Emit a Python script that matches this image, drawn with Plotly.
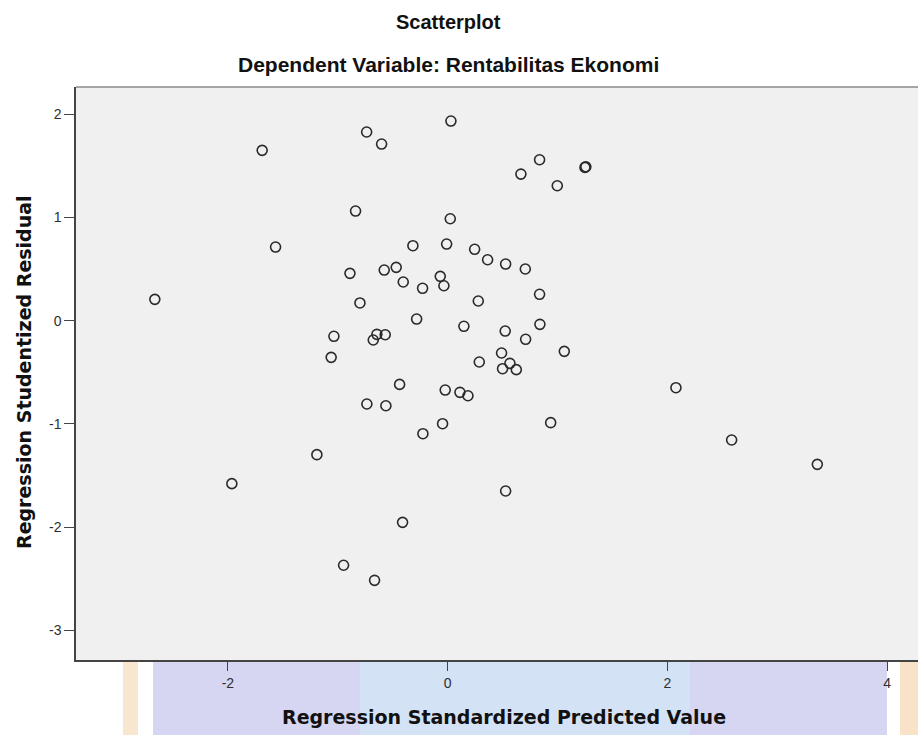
import plotly.graph_objects as go

# Regression Standardized Predicted Value (x) vs Regression Studentized Residual (y)
pred_value = [
    -1.688, -0.737, -0.601, 0.030, 0.667, 0.837, 0.998, 1.250, 1.258,
    -0.838, 0.024, -1.566, -0.316, -0.009, 0.246, 0.364, 0.528, 0.707,
    -0.889, -0.577, -0.468, -0.404, -0.228, -0.067, -0.034, 0.279, 0.837,
    -2.665, -0.798, -0.282, 0.148, 0.524, 0.840, 0.710, -1.035, -0.644,
    -0.677, -0.568, -1.060, 1.062, 0.491, 0.288, 0.567, 0.500, 0.625,
    -0.437, -0.022, 0.112, 0.185, -0.735, -0.562, -0.046, -0.225, 0.938,
    0.528, -1.190, -1.964, -0.410, -0.947, -0.665, 2.078, 2.585, 3.365,
]
stud_residual = [
    1.651, 1.829, 1.712, 1.935, 1.421, 1.560, 1.308, 1.486, 1.492,
    1.063, 0.988, 0.714, 0.727, 0.743, 0.692, 0.591, 0.549, 0.501,
    0.459, 0.491, 0.517, 0.375, 0.314, 0.430, 0.339, 0.191, 0.256,
    0.207, 0.172, 0.016, -0.054, -0.100, -0.035, -0.180, -0.151, -0.132,
    -0.187, -0.136, -0.355, -0.297, -0.313, -0.400, -0.413, -0.465, -0.474,
    -0.617, -0.672, -0.694, -0.727, -0.807, -0.824, -0.998, -1.095, -0.988,
    -1.650, -1.298, -1.579, -1.954, -2.370, -2.516, -0.649, -1.156, -1.392,
]
x_ticks = [-2, 0, 2, 4]
x_tick_text = ["-2", "0", "2", "4"]
y_ticks = [-3, -2, -1, 0, 1, 2]
y_tick_text = ["-3", "-2", "-1", "0", "1", "2"]

W, H = 918, 735
L, R, T, B = 76, 918, 87, 660  # plot area in pixels


def px(x):
    return (x - L) / (R - L)


def py(y):
    return (B - y) / (B - T)


def rect(x0, x1, y0, y1, color):
    return dict(type="rect", xref="paper", yref="paper", layer="below",
                x0=px(x0), x1=px(x1), y0=py(y1), y1=py(y0),
                fillcolor=color, line=dict(width=0))


fig = go.Figure()
fig.add_trace(go.Scatter(
    x=pred_value, y=stud_residual, mode="markers",
    marker=dict(symbol="circle-open", size=10, color="#2a2a2a",
                line=dict(width=1.6)),
    hoverinfo="x+y", showlegend=False,
))

axis_font = dict(family="Liberation Sans, Arial, sans-serif", size=14, color="#2e2e2e")
fig.update_layout(
    width=W, height=H,
    margin=dict(l=L, r=W - R, t=T, b=H - B),
    paper_bgcolor="white",
    plot_bgcolor="#f0f0f0",
    xaxis=dict(range=[-3.3825, 4.2813], tickvals=x_ticks, ticktext=x_tick_text,
               ticks="outside", ticklen=9, tickwidth=1.4, tickcolor="#444444",
               showline=True, linecolor="#444444", linewidth=1.5,
               showgrid=False, zeroline=False, tickfont=axis_font),
    yaxis=dict(range=[-3.288, 2.265], tickvals=y_ticks, ticktext=y_tick_text,
               ticks="outside", ticklen=10, tickwidth=1.4, tickcolor="#444444",
               showline=True, linecolor="#444444", linewidth=1.5,
               showgrid=False, zeroline=False, tickfont=axis_font),
    shapes=[
        # faint watermark showing below the plot frame
        rect(123, 138, 660, 735, "#f8e6cf"),
        rect(153, 887, 660, 735, "#d6d6f3"),
        rect(360, 690, 660, 735, "#d4e2f5"),
        rect(900, 918, 660, 735, "#f8e3c9"),
        dict(type="line", xref="paper", yref="paper", x0=0, x1=1, y0=1, y1=1,
             line=dict(color="#8a8a8a", width=1.5)),
    ],
    annotations=[
        dict(text="<b>Scatterplot</b>", x=px(448), y=py(22), xref="paper", yref="paper",
             showarrow=False, xanchor="center", yanchor="middle",
             font=dict(family="Liberation Sans, Arial, sans-serif", size=20, color="#111111")),
        dict(text="<b>Dependent Variable: Rentabilitas Ekonomi</b>", x=px(448), y=py(65),
             xref="paper", yref="paper", showarrow=False, xanchor="center", yanchor="middle",
             font=dict(family="Liberation Sans, Arial, sans-serif", size=21, color="#111111")),
        dict(text="<b>Regression Standardized Predicted Value</b>", x=px(504), y=py(717),
             xref="paper", yref="paper", showarrow=False, xanchor="center", yanchor="middle",
             font=dict(family="DejaVu Sans, sans-serif", size=19, color="#111111")),
        dict(text="<b>Regression Studentized Residual</b>", x=px(24), y=py(372),
             xref="paper", yref="paper", showarrow=False, xanchor="center", yanchor="middle",
             textangle=-90,
             font=dict(family="DejaVu Sans, sans-serif", size=19, color="#111111")),
    ],
)

fig.write_html("out.html", config={"displayModeBar": False},
               post_script="document.body.style.margin='0';")
